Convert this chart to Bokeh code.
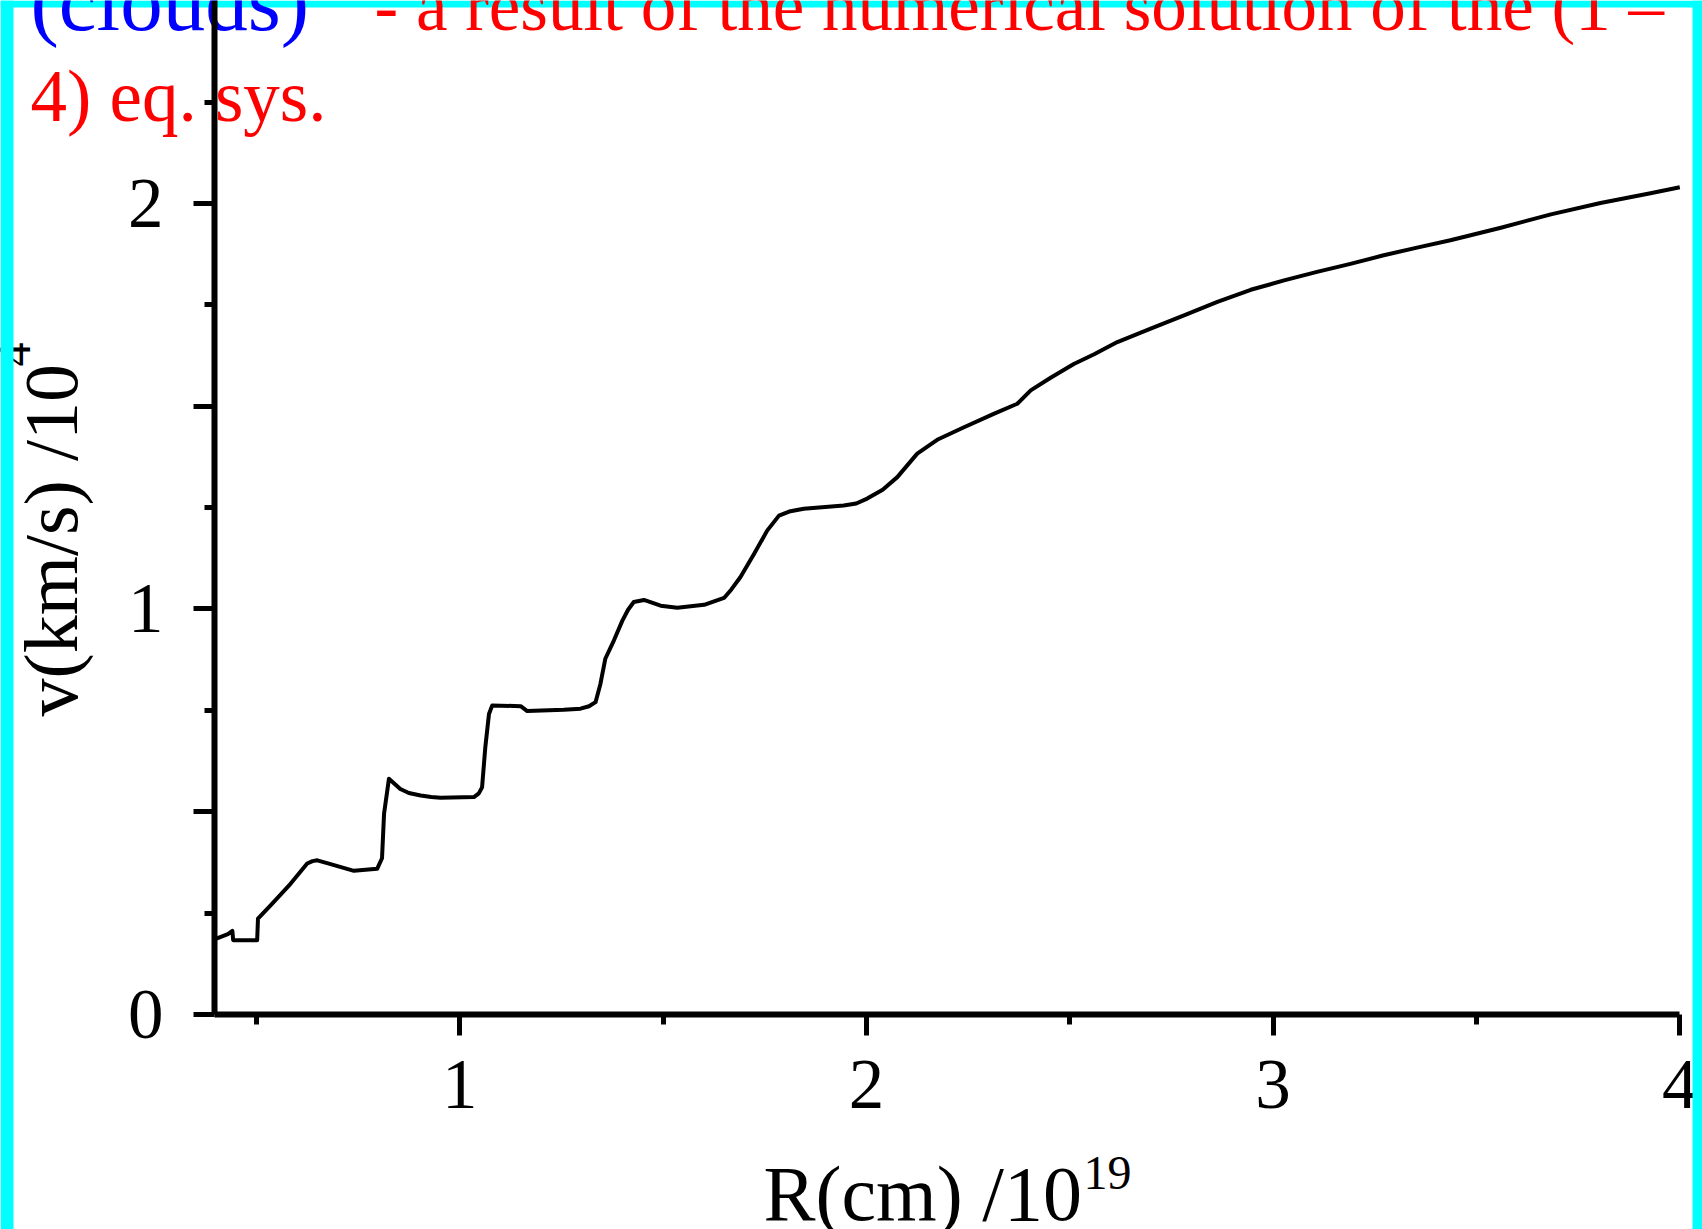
import numpy as np
from bokeh.plotting import figure
from bokeh.models import Range1d, FixedTicker, Label, BoxAnnotation
from bokeh.embed import file_html
from bokeh.resources import INLINE

# ---- data ----
R = [0.397, 0.430, 0.441, 0.443, 0.502, 0.504, 0.535, 0.584, 0.625, 0.638, 0.650,
     0.674, 0.740, 0.797, 0.809, 0.814, 0.826, 0.854, 0.875, 0.904, 0.930, 0.953,
     1.035, 1.047, 1.055, 1.063, 1.072, 1.080, 1.150, 1.166, 1.256, 1.297, 1.318,
     1.334, 1.346, 1.358, 1.379, 1.400, 1.414, 1.428, 1.453, 1.494, 1.535, 1.601,
     1.650, 1.668, 1.690, 1.724, 1.756, 1.785, 1.810, 1.846, 1.944, 1.975, 2.002,
     2.040, 2.076, 2.125, 2.174, 2.240, 2.313, 2.371, 2.404, 2.453, 2.510, 2.560,
     2.617, 2.699, 2.781, 2.863, 2.945, 3.027, 3.108, 3.190, 3.272, 3.354, 3.436,
     3.560, 3.683, 3.805, 3.928, 4.000]
V = [0.185, 0.198, 0.206, 0.183, 0.183, 0.236, 0.269, 0.322, 0.372, 0.378, 0.380,
     0.373, 0.354, 0.359, 0.385, 0.495, 0.581, 0.556, 0.546, 0.540, 0.536, 0.534,
     0.536, 0.545, 0.560, 0.659, 0.741, 0.762, 0.760, 0.748, 0.751, 0.754, 0.760,
     0.770, 0.815, 0.877, 0.922, 0.971, 0.998, 1.017, 1.022, 1.008, 1.003, 1.010,
     1.027, 1.048, 1.078, 1.136, 1.193, 1.230, 1.240, 1.247, 1.255, 1.260, 1.272,
     1.294, 1.325, 1.383, 1.417, 1.448, 1.481, 1.506, 1.539, 1.570, 1.604, 1.628,
     1.658, 1.691, 1.724, 1.757, 1.787, 1.810, 1.831, 1.851, 1.872, 1.891, 1.909,
     1.940, 1.973, 2.001, 2.025, 2.040]

x_major = [1, 2, 3, 4]
x_minor = [0.5, 1.5, 2.5, 3.5]
x_labels = ["1", "2", "3", "4"]
y_major = [0, 0.5, 1, 1.5, 2]
y_minor = [0.25, 0.75, 1.25, 1.75, 2.25]
y_labels = ["0", "", "1", "", "2"]

title_blue = "(clouds)"
title_red1 = "- a result of the numerical solution of the (1 \u2013"
title_red2 = "4) eq. sys."
xlabel_main, xlabel_sup = "R(cm) /10", "19"
ylabel_main, ylabel_sup = "v(km/s) /10", "4"

FONT = "Liberation Serif"
W, H = 1702, 1229

# pixel -> data mapping of the reference (x=1 at px 459.2, y=0 at px 1013.9)
def X(px):
    return 1 + (px - 459.2) / 406.7

def Y(py):
    return (1013.9 - py) / 405.5

X_AXIS_AT = 0.0
Y_AXIS_AT = X(214)

p = figure(width=W, height=H, output_backend="svg", toolbar_location=None,
           x_range=Range1d(X(0), X(W)), y_range=Range1d(Y(H), Y(0)),
           min_border_left=0, min_border_right=0, min_border_top=0,
           min_border_bottom=0, title=None)
p.outline_line_color = None
p.grid.visible = False
p.background_fill_color = "white"
p.border_fill_color = "white"

# top cyan band (below the texts)
p.add_layout(BoxAnnotation(left=X(0), right=X(W), top=Y(0), bottom=Y(7),
                           fill_color="#00FFFF", fill_alpha=1.0, line_color=None,
                           level="underlay"))

p.line(R, V, line_color="black", line_width=4, line_join="round")

for ax, maj, mnr, labs in ((p.xaxis[0], x_major, x_minor, x_labels),
                           (p.yaxis[0], y_major, y_minor, y_labels)):
    ax.ticker = FixedTicker(ticks=maj, minor_ticks=mnr)
    ax.major_label_overrides = {m: l for m, l in zip(maj, labs)}
    ax.axis_line_width = 6
    ax.axis_line_color = "black"
    ax.major_tick_line_width = 5
    ax.minor_tick_line_width = 5
    ax.major_tick_in = 0
    ax.minor_tick_in = 0
    ax.major_tick_out = 21
    ax.minor_tick_out = 10
    ax.major_label_text_font = FONT
    ax.major_label_text_font_size = "71px"
    ax.major_label_text_color = "black"
p.xaxis[0].fixed_location = X_AXIS_AT
p.xaxis[0].bounds = (Y_AXIS_AT, 4.0)
p.yaxis[0].fixed_location = Y_AXIS_AT
p.yaxis[0].bounds = (0, Y(0))
p.xaxis[0].major_label_standoff = 26
p.yaxis[0].major_label_standoff = 30

SHIFT = 0.35  # empirical baseline correction (fraction of font size)

def add_label(text, px, py, color="black", size=72, angle=0, level="annotation"):
    if angle == 0:
        py = py - SHIFT * size
    else:
        px = px - SHIFT * size
    p.add_layout(Label(x=X(px), y=Y(py), text=text, text_font=FONT,
                       text_font_size=f"{size}px", text_color=color,
                       text_align="left", text_baseline="alphabetic",
                       angle=angle, angle_units="deg", level=level))

add_label(title_blue, 30, 30, "#0000FF", 85, level="underlay")
add_label(title_red1, 374, 30, "#FF0000", 71, level="underlay")
add_label(title_red2, 30, 122, "#FF0000", 73, level="underlay")
add_label(xlabel_main, 763, 1220, size=78)
add_label(xlabel_sup, 1083, 1189, size=48)
add_label(ylabel_main, 77, 716, size=76, angle=90)
add_label(ylabel_sup, 30, 366, size=48, angle=90)

# side cyan bands (above everything)
for l, r in ((0, 13), (1692, W)):
    p.add_layout(BoxAnnotation(left=X(l), right=X(r), top=Y(0), bottom=Y(H),
                               fill_color="#00FFFF", fill_alpha=1.0,
                               line_color=None, level="overlay"))

open("out.html", "w").write(file_html(p, INLINE))
